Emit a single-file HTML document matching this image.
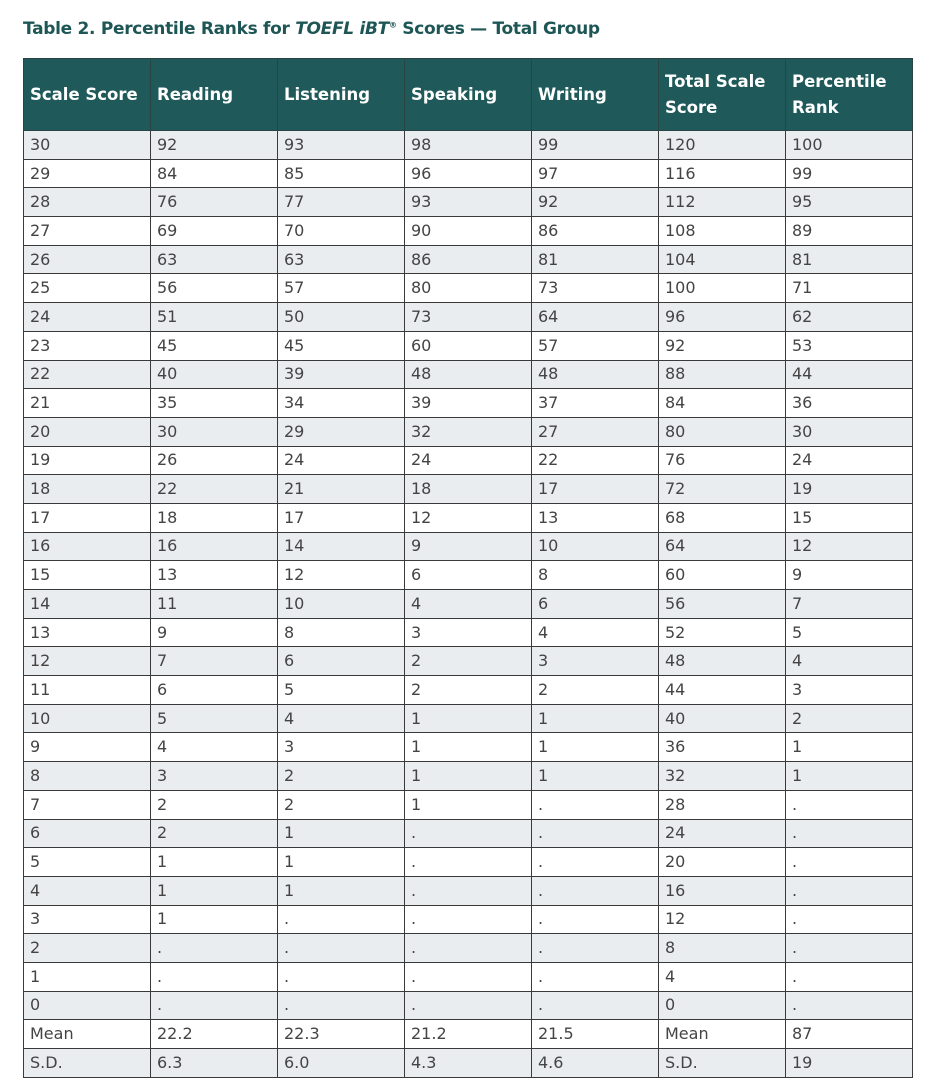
<!DOCTYPE html>
<html><head><meta charset="utf-8"><style>
body{margin:0;background:#fff;width:943px;height:1088px;overflow:hidden;font-family:"DejaVu Sans","Liberation Sans",sans-serif;}
h1{position:absolute;left:23px;top:19px;margin:0;font-size:17px;font-weight:bold;color:#1e5656;letter-spacing:-0.3px;white-space:nowrap}
table{position:absolute;left:23px;top:58px;border-collapse:collapse;table-layout:fixed;width:890px}
td,th{border:1px solid #3a3a3a;padding:0 0 0 6px;text-align:left;font-size:16px;color:#444;height:27.7px;line-height:16px}
th{background:#1f5959;color:#fff;font-weight:bold;height:71px;border-color:#2a4444;font-size:16.5px;line-height:26px}
tr:nth-child(odd) td{background:#e9edf0}
col{width:127px}
</style></head><body>
<h1>Table 2. Percentile Ranks for <i>TOEFL iBT</i><sup style="font-size:8px">®</sup> Scores — Total Group</h1>
<table><colgroup><col><col><col><col><col><col><col></colgroup>
<thead><tr><th>Scale Score</th><th>Reading</th><th>Listening</th><th>Speaking</th><th>Writing</th><th>Total Scale<br>Score</th><th>Percentile<br>Rank</th></tr></thead>
<tbody>
<tr><td>30</td><td>92</td><td>93</td><td>98</td><td>99</td><td>120</td><td>100</td></tr>
<tr><td>29</td><td>84</td><td>85</td><td>96</td><td>97</td><td>116</td><td>99</td></tr>
<tr><td>28</td><td>76</td><td>77</td><td>93</td><td>92</td><td>112</td><td>95</td></tr>
<tr><td>27</td><td>69</td><td>70</td><td>90</td><td>86</td><td>108</td><td>89</td></tr>
<tr><td>26</td><td>63</td><td>63</td><td>86</td><td>81</td><td>104</td><td>81</td></tr>
<tr><td>25</td><td>56</td><td>57</td><td>80</td><td>73</td><td>100</td><td>71</td></tr>
<tr><td>24</td><td>51</td><td>50</td><td>73</td><td>64</td><td>96</td><td>62</td></tr>
<tr><td>23</td><td>45</td><td>45</td><td>60</td><td>57</td><td>92</td><td>53</td></tr>
<tr><td>22</td><td>40</td><td>39</td><td>48</td><td>48</td><td>88</td><td>44</td></tr>
<tr><td>21</td><td>35</td><td>34</td><td>39</td><td>37</td><td>84</td><td>36</td></tr>
<tr><td>20</td><td>30</td><td>29</td><td>32</td><td>27</td><td>80</td><td>30</td></tr>
<tr><td>19</td><td>26</td><td>24</td><td>24</td><td>22</td><td>76</td><td>24</td></tr>
<tr><td>18</td><td>22</td><td>21</td><td>18</td><td>17</td><td>72</td><td>19</td></tr>
<tr><td>17</td><td>18</td><td>17</td><td>12</td><td>13</td><td>68</td><td>15</td></tr>
<tr><td>16</td><td>16</td><td>14</td><td>9</td><td>10</td><td>64</td><td>12</td></tr>
<tr><td>15</td><td>13</td><td>12</td><td>6</td><td>8</td><td>60</td><td>9</td></tr>
<tr><td>14</td><td>11</td><td>10</td><td>4</td><td>6</td><td>56</td><td>7</td></tr>
<tr><td>13</td><td>9</td><td>8</td><td>3</td><td>4</td><td>52</td><td>5</td></tr>
<tr><td>12</td><td>7</td><td>6</td><td>2</td><td>3</td><td>48</td><td>4</td></tr>
<tr><td>11</td><td>6</td><td>5</td><td>2</td><td>2</td><td>44</td><td>3</td></tr>
<tr><td>10</td><td>5</td><td>4</td><td>1</td><td>1</td><td>40</td><td>2</td></tr>
<tr><td>9</td><td>4</td><td>3</td><td>1</td><td>1</td><td>36</td><td>1</td></tr>
<tr><td>8</td><td>3</td><td>2</td><td>1</td><td>1</td><td>32</td><td>1</td></tr>
<tr><td>7</td><td>2</td><td>2</td><td>1</td><td>.</td><td>28</td><td>.</td></tr>
<tr><td>6</td><td>2</td><td>1</td><td>.</td><td>.</td><td>24</td><td>.</td></tr>
<tr><td>5</td><td>1</td><td>1</td><td>.</td><td>.</td><td>20</td><td>.</td></tr>
<tr><td>4</td><td>1</td><td>1</td><td>.</td><td>.</td><td>16</td><td>.</td></tr>
<tr><td>3</td><td>1</td><td>.</td><td>.</td><td>.</td><td>12</td><td>.</td></tr>
<tr><td>2</td><td>.</td><td>.</td><td>.</td><td>.</td><td>8</td><td>.</td></tr>
<tr><td>1</td><td>.</td><td>.</td><td>.</td><td>.</td><td>4</td><td>.</td></tr>
<tr><td>0</td><td>.</td><td>.</td><td>.</td><td>.</td><td>0</td><td>.</td></tr>
<tr><td>Mean</td><td>22.2</td><td>22.3</td><td>21.2</td><td>21.5</td><td>Mean</td><td>87</td></tr>
<tr><td>S.D.</td><td>6.3</td><td>6.0</td><td>4.3</td><td>4.6</td><td>S.D.</td><td>19</td></tr>
</tbody></table>
</body></html>
